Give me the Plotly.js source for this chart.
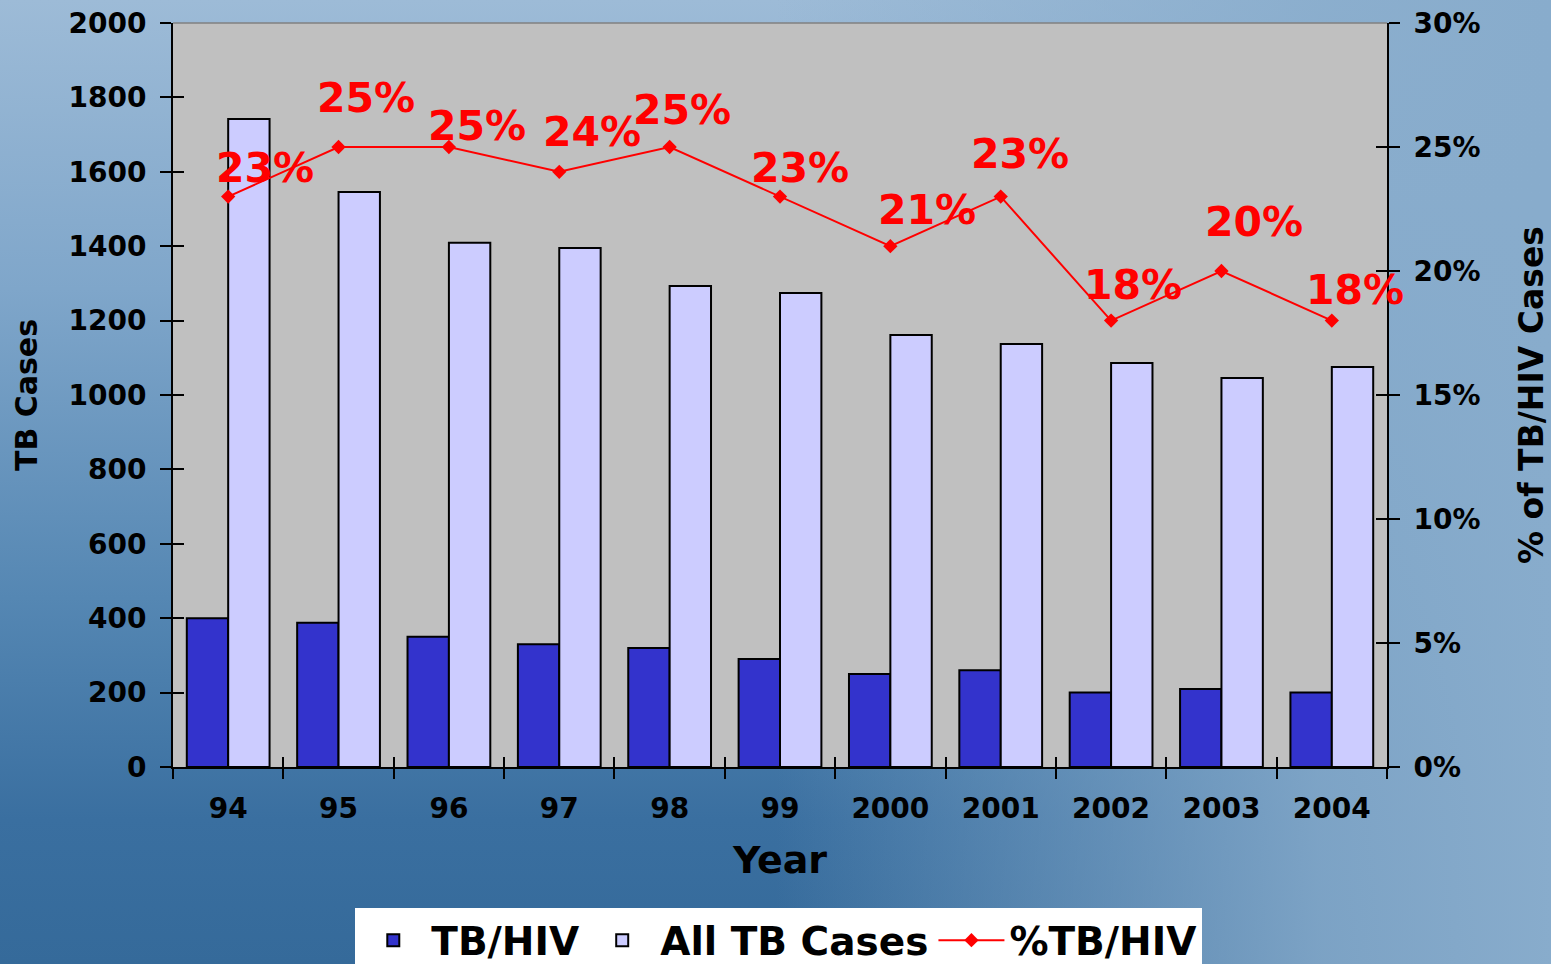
<!DOCTYPE html>
<html>
<head>
<meta charset="utf-8">
<script src="https://cdn.plot.ly/plotly-3.0.1.min.js"></script>
<style>
  html, body { margin: 0; padding: 0; }
  body {
    width: 1551px; height: 964px; overflow: hidden;
    background:
      linear-gradient(to right, rgba(136,172,204,0) 50%, rgba(136,172,204,0.85) 85%, rgba(136,172,204,1) 100%),
      linear-gradient(to bottom, #9dbbd7 0%, #7fa6ca 30%, #5587b3 62%, #3a6fa0 85%, #356a9a 100%);
  }
  #chart { width: 1551px; height: 964px; }
</style>
</head>
<body>
<div id="chart"></div>
<script>
// data
const years = ['94', '95', '96', '97', '98', '99', '2000', '2001', '2002', '2003', '2004'];
const tbHiv = [400, 388, 350, 330, 320, 290, 250, 260, 200, 210, 200];
const allTb = [1742, 1546, 1409, 1395, 1293, 1274, 1161, 1137, 1086, 1046, 1075];
const pctTbHiv = [23, 25, 25, 24, 25, 23, 21, 23, 18, 20, 18];

// where each % label sits relative to its point (px)
const labelShiftX = [37, 27, 28, 33, 12, 20, 37, 19, 22, 33, 23];
const labelShiftY = [29, 49, 21, 40, 37, 29, 36, 43, 36, 49, 31];

const font = 'DejaVu Sans, Verdana, sans-serif';

const traces = [
  {
    type: 'bar',
    name: 'TB/HIV',
    x: years,
    y: tbHiv,
    marker: { color: '#3333cc', line: { color: '#000', width: 2 } },
  },
  {
    type: 'bar',
    name: 'All TB Cases',
    x: years,
    y: allTb,
    marker: { color: '#ccccff', line: { color: '#000', width: 2 } },
  },
  {
    type: 'scatter',
    name: '%TB/HIV',
    x: years,
    y: pctTbHiv,
    yaxis: 'y2',
    mode: 'lines+markers',
    line: { color: '#ff0000', width: 2 },
    marker: { color: '#ff0000', symbol: 'diamond', size: 11 },
  },
  // empty traces so the overlay axes (inner tick halves) get drawn
  { type: 'scatter', x: [], y: [], yaxis: 'y3', showlegend: false, hoverinfo: 'skip' },
  { type: 'scatter', x: [], y: [], yaxis: 'y4', showlegend: false, hoverinfo: 'skip' },
  { type: 'scatter', x: [], y: [], xaxis: 'x2', showlegend: false, hoverinfo: 'skip' },
];

// category axis: annotations use the category index (labels look numeric)
const annotations = years.map((yr, i) => ({
  x: i,
  y: pctTbHiv[i],
  xref: 'x',
  yref: 'y2',
  text: pctTbHiv[i] + '%',
  showarrow: false,
  xshift: labelShiftX[i],
  yshift: labelShiftY[i],
  font: { family: font, size: 41, color: '#ff0000', weight: 'bold' },
}));

const tickFont = { family: font, size: 28, color: '#000', weight: 'bold' };
const innerTicks = {
  ticks: 'inside', tickwidth: 2, tickcolor: '#000',
  showticklabels: false, showgrid: false, zeroline: false, showline: false,
};

const layout = {
  width: 1551,
  height: 964,
  margin: { l: 173, r: 164, t: 23, b: 197, autoexpand: false },
  paper_bgcolor: 'rgba(0,0,0,0)',
  plot_bgcolor: '#c0c0c0',
  barmode: 'group',
  bargap: 0.25,
  bargroupgap: 0,
  showlegend: true,
  legend: {
    orientation: 'h',
    x: 0.499,
    xanchor: 'center',
    y: -0.19,
    yanchor: 'top',
    bgcolor: '#ffffff',
    borderwidth: 0,
    font: { family: font, size: 39, color: '#000', weight: 'bold' },
    itemwidth: 66,
    traceorder: 'normal',
  },
  xaxis: {
    type: 'category',
    range: [-0.5, 10.5],
    tickson: 'boundaries',
    ticks: 'outside',
    ticklen: 10,
    tickwidth: 2,
    tickcolor: '#000',
    showline: true,
    linecolor: '#000',
    linewidth: 2,
    showgrid: false,
    tickfont: tickFont,
    ticklabelstandoff: 15,
    title: { text: 'Year', font: { family: font, size: 38, color: '#000', weight: 'bold' }, standoff: 23 },
  },
  yaxis: {
    range: [0, 2000],
    dtick: 200,
    ticks: 'outside',
    ticklen: 11,
    tickwidth: 2,
    tickcolor: '#000',
    showline: true,
    linecolor: '#000',
    linewidth: 2,
    showgrid: false,
    zeroline: false,
    tickfont: tickFont,
    ticklabelstandoff: 8,
    title: { text: 'TB Cases', font: { family: font, size: 30, color: '#000', weight: 'bold' }, standoff: 22 },
  },
  yaxis2: {
    overlaying: 'y',
    side: 'right',
    range: [0, 30],
    dtick: 5,
    ticksuffix: '%',
    ticks: 'outside',
    ticklen: 11,
    tickwidth: 2,
    tickcolor: '#000',
    showline: true,
    linecolor: '#000',
    linewidth: 2,
    showgrid: false,
    zeroline: false,
    tickfont: tickFont,
    ticklabelstandoff: 8,
    title: { text: '% of TB/HIV Cases', font: { family: font, size: 33, color: '#000', weight: 'bold' }, standoff: 40 },
  },
  // inner halves of the crossing ticks
  yaxis3: Object.assign({ overlaying: 'y', side: 'left', range: [0, 2000], dtick: 200, ticklen: 11 }, innerTicks),
  yaxis4: Object.assign({ overlaying: 'y', side: 'right', range: [0, 30], dtick: 5, ticklen: 11 }, innerTicks),
  xaxis2: Object.assign({ overlaying: 'x', side: 'bottom', range: [-0.5, 10.5], tick0: -0.5, dtick: 1, ticklen: 10 }, innerTicks),
  shapes: [
    { type: 'line', xref: 'paper', yref: 'paper', x0: 0, x1: 1, y0: 1, y1: 1, line: { color: '#808080', width: 1.5 } },
  ],
  annotations: annotations,
};

Plotly.newPlot('chart', traces, layout, { displayModeBar: false, staticPlot: true });
</script>
</body>
</html>
